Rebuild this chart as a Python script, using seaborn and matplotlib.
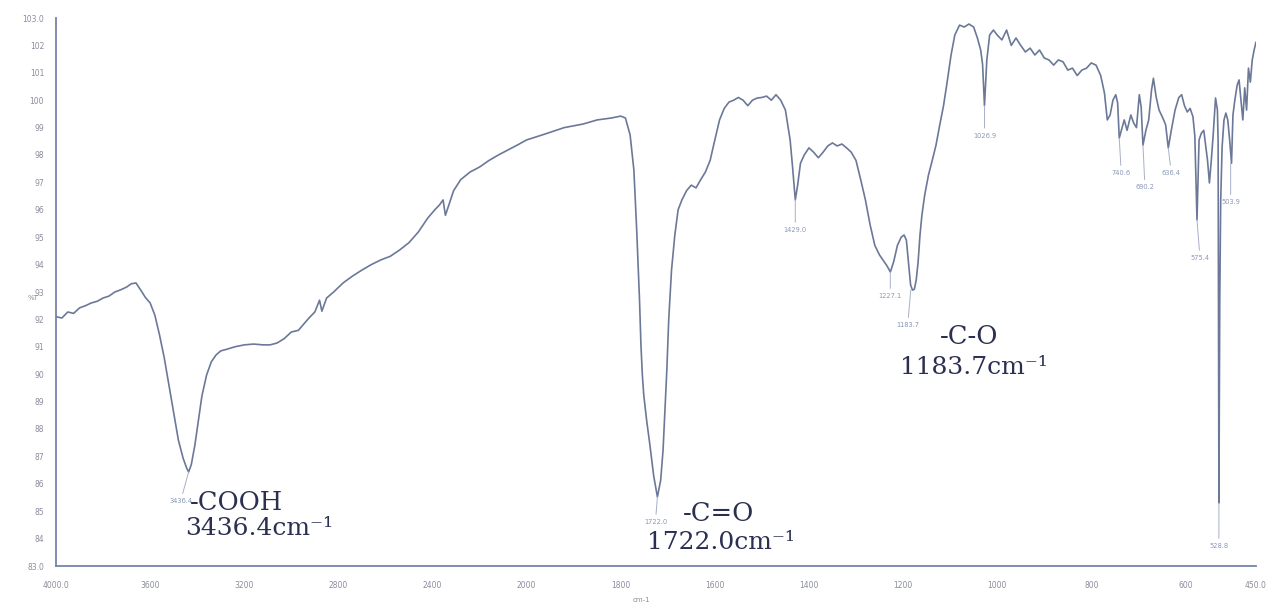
import numpy as np
import pandas as pd
import matplotlib
matplotlib.use("Agg")
import matplotlib.pyplot as plt
import seaborn as sns
from matplotlib.ticker import FixedLocator, FixedFormatter

# ---------------- data ----------------
wavenumber = [
    4000, 3975, 3950, 3925, 3900, 3875, 3850, 3825, 3800, 3775, 3750, 3725, 3700,
    3680, 3660, 3640, 3620, 3600, 3580, 3560, 3540, 3520, 3500, 3480, 3460, 3445,
    3436.4, 3425, 3410, 3395, 3380, 3360, 3340, 3320, 3300, 3270, 3240, 3200, 3160,
    3120, 3090, 3060, 3030, 3000, 2970, 2950, 2925, 2900, 2880, 2870, 2850, 2820,
    2780, 2740, 2700, 2660, 2620, 2580, 2540, 2500, 2460, 2420, 2390, 2370, 2355,
    2345, 2330, 2310, 2280, 2240, 2200, 2160, 2120, 2080, 2040, 2000,
    1960, 1920, 1880, 1850, 1820, 1800, 1790, 1780, 1772, 1766, 1760, 1757, 1754,
    1751, 1745, 1738, 1730, 1722, 1715, 1710, 1706, 1702, 1698, 1692, 1685, 1678,
    1670, 1660, 1650, 1640, 1630, 1620, 1610, 1600, 1590, 1580, 1570, 1560, 1550,
    1540, 1530, 1520, 1510, 1500, 1490, 1480, 1470, 1460, 1450, 1440, 1435, 1429,
    1424, 1418, 1410, 1400, 1390, 1380, 1370, 1360, 1350, 1340, 1330, 1320, 1310,
    1300, 1290, 1280, 1270, 1260, 1250, 1240, 1234, 1227, 1220, 1212, 1204, 1198,
    1193, 1189, 1184, 1180, 1176, 1172, 1168, 1164, 1160, 1154, 1146, 1138, 1130,
    1122, 1114, 1106, 1098, 1090, 1080, 1070, 1060, 1050, 1042, 1035, 1031, 1027,
    1022, 1016, 1008, 1000, 990, 980, 970, 960, 950, 940, 930, 920, 910, 900, 890,
    880, 870, 860, 850, 840, 830, 820, 810, 800, 790, 780, 772, 766, 760, 754, 748,
    744, 740.6, 736, 730, 724, 716, 710, 704, 698, 694, 690.2, 684, 678, 672, 668,
    662, 656, 648, 642, 636.4, 630, 622, 614, 608, 602, 596, 590, 584, 580, 575.4,
    571, 566, 561, 557, 553, 549, 545, 541, 536, 532, 530.5, 528.8, 527, 525, 522,
    518, 514, 510, 506, 502, 499, 495, 490, 486, 482, 478, 474, 470, 466, 462, 458,
    454, 450,
]
transmittance = [
    92.10, 92.05, 92.27, 92.22, 92.42, 92.50, 92.60, 92.66, 92.78, 92.85, 93.00, 93.08, 93.18,
    93.30, 93.33, 93.07, 92.80, 92.60, 92.16, 91.43, 90.60, 89.60, 88.60, 87.60, 86.94, 86.58,
    86.43, 86.70, 87.40, 88.30, 89.20, 89.97, 90.45, 90.70, 90.85, 90.92, 91.00, 91.07, 91.10,
    91.07, 91.07, 91.14, 91.30, 91.54, 91.60, 91.80, 92.05, 92.27, 92.70, 92.30, 92.78, 93.00,
    93.33, 93.58, 93.80, 94.00, 94.17, 94.30, 94.53, 94.80, 95.19, 95.70, 96.00, 96.18, 96.36,
    95.80, 96.18, 96.70, 97.10, 97.38, 97.56, 97.80, 98.00, 98.18, 98.36, 98.55,
    98.77, 99.00, 99.13, 99.28, 99.35, 99.42, 99.35, 98.73, 97.45, 95.26, 92.70, 91.07, 89.97,
    89.24, 88.33, 87.42, 86.30, 85.52, 86.14, 87.23, 88.70, 90.15, 91.98, 93.80, 95.08, 96.00,
    96.36, 96.70, 96.90, 96.80, 97.10, 97.38, 97.80, 98.55, 99.28, 99.70, 99.93, 100.00, 100.10,
    100.00, 99.80, 100.00, 100.08, 100.10, 100.15, 100.00, 100.20, 100.00, 99.64, 98.55, 97.60, 96.36,
    96.90, 97.70, 98.00, 98.26, 98.10, 97.90, 98.10, 98.33, 98.44, 98.33, 98.40, 98.26, 98.10,
    97.80, 97.10, 96.36, 95.45, 94.70, 94.35, 94.10, 93.95, 93.73, 94.10, 94.70, 95.00, 95.08,
    94.90, 94.17, 93.26, 93.07, 93.10, 93.44, 94.10, 95.08, 95.80, 96.54, 97.27, 97.80, 98.36,
    99.10, 99.80, 100.70, 101.65, 102.38, 102.74, 102.67, 102.78, 102.67, 102.27, 101.83, 101.30, 99.80,
    101.47, 102.38, 102.56, 102.38, 102.20, 102.56, 102.00, 102.27, 102.00, 101.76, 101.90, 101.65, 101.83, 101.54, 101.47,
    101.28, 101.47, 101.40, 101.10, 101.17, 100.90, 101.10, 101.17, 101.36, 101.28, 100.90, 100.26, 99.28, 99.46, 100.00, 100.20,
    99.90, 98.62, 98.90, 99.28, 98.90, 99.46, 99.17, 99.00, 100.20, 99.75, 98.36, 98.90, 99.28, 100.37, 100.80,
    100.10, 99.64, 99.35, 99.10, 98.26, 98.90, 99.64, 100.10, 100.20, 99.80, 99.57, 99.70, 99.40, 98.70, 95.63,
    98.55, 98.80, 98.90, 98.36, 97.80, 96.98, 97.80, 98.73, 100.08, 99.64, 98.50, 85.30, 92.70, 96.36, 98.30,
    99.28, 99.53, 99.28, 98.55, 97.70, 99.46, 100.00, 100.55, 100.74, 100.00, 99.28, 100.45, 99.64, 101.17, 100.66, 101.47,
    101.83, 102.12,
]

x_ticks = [4000, 3600, 3200, 2800, 2400, 2000, 1800, 1600, 1400, 1200, 1000, 800, 600, 450]
x_tick_labels = ["4000.0", "3600", "3200", "2800", "2400", "2000", "1800", "1600",
                 "1400", "1200", "1000", "800", "600", "450.0"]
y_ticks = list(range(83, 104))
y_tick_labels = ["83.0"] + [str(v) for v in range(84, 103)] + ["103.0"]

peak_wn = [3436.4, 1722.0, 1429.0, 1227.1, 1183.7, 1026.9, 740.6, 690.2, 636.4, 575.4, 528.8, 503.9]
peak_T = [86.43, 85.52, 96.36, 93.73, 93.07, 99.80, 98.62, 98.36, 98.26, 95.63, 85.30, 97.70]
peak_labels = ["3436.4", "1722.0", "1429.0", "1227.1", "1183.7", "1026.9",
               "740.6", "690.2", "636.4", "575.4", "528.8", "503.9"]

group_names = ["-COOH", "-C=O", "-C-O"]
group_positions = ["3436.4", "1722.0", "1183.7"]

x_label = "cm-1"
y_label = "%T"

# ---------------- styling ----------------
sns.set_theme(style="white")
plt.rcParams["font.family"] = ["DejaVu Sans"]

LINE_C = "#6b7898"
SPINE_C = "#7483a8"
TICK_TXT = "#8a8d9c"
PEAK_TXT = "#8a97b8"
ANNOT_C = "#2b3052"

fig = plt.figure(figsize=(12.82, 6.03), dpi=100)
fig.patch.set_facecolor("white")
ax = fig.add_axes([56 / 1282, 37 / 603, 1200 / 1282, 548 / 603])
ax.set_facecolor("white")

df = pd.DataFrame({"wavenumber": wavenumber, "T": transmittance})
sns.lineplot(data=df, x="wavenumber", y="T", ax=ax, color=LINE_C, linewidth=1.2,
             estimator=None, sort=True)


def fwd(x):
    x = np.asarray(x, dtype=float)
    return np.where(x > 2000, 2000 + (x - 2000) / 2.0, x)


def inv(u):
    u = np.asarray(u, dtype=float)
    return np.where(u > 2000, 2000 + (u - 2000) * 2.0, u)


ax.set_xscale("function", functions=(fwd, inv))
ax.set_xlim(4000, 450)
ax.set_ylim(83, 103)

ax.xaxis.set_major_locator(FixedLocator(x_ticks))
ax.xaxis.set_major_formatter(FixedFormatter(x_tick_labels))
minor_x = list(np.arange(4000, 2000, -80)) + list(np.arange(2000, 449, -40))
ax.xaxis.set_minor_locator(FixedLocator(minor_x))
ax.yaxis.set_major_locator(FixedLocator(y_ticks))
ax.yaxis.set_major_formatter(FixedFormatter(y_tick_labels))
ax.yaxis.set_minor_locator(FixedLocator(list(np.arange(83, 103.01, 0.25))))

for s in ["top", "right"]:
    ax.spines[s].set_visible(False)
for s in ["left", "bottom"]:
    ax.spines[s].set_color(SPINE_C)
    ax.spines[s].set_linewidth(1.3)

ax.tick_params(axis="both", which="major", direction="inout", length=5, width=0.9,
               color=SPINE_C, labelsize=5.5, labelcolor=TICK_TXT, pad=6)
ax.tick_params(axis="both", which="minor", direction="inout", length=2.2, width=0.6,
               color=SPINE_C)
ax.tick_params(axis="x", which="major", pad=8)
ax.grid(False)

ax.set_xlabel(x_label, fontsize=5, color=TICK_TXT)
ax.xaxis.set_label_coords(0.488, -0.057)
ax.set_ylabel(y_label, fontsize=5, color=TICK_TXT, rotation=0, va="center")
ax.yaxis.set_label_coords(-0.019, 0.489)

# ---------------- peak labels ----------------
peak_offsets = [(-8, -29), (-2, -25), (0, -30), (0, -24), (-3, -35), (0, -30),
                (2, -35), (2, -42), (3, -25), (3, -38), (0, -43), (0, -39)]
for wn, t, lab, (dx, dy) in zip(peak_wn, peak_T, peak_labels, peak_offsets):
    ax.annotate(lab, xy=(wn, t), xytext=(dx, dy), textcoords="offset pixels",
                fontsize=4.8, color=PEAK_TXT, ha="center", va="center",
                arrowprops=dict(arrowstyle="-", color="#a7b0c8", lw=0.7,
                                shrinkA=1, shrinkB=0))

# ---------------- functional-group annotations ----------------
group_xy = [((0.1117, 0.115), (0.1075, 0.0693)),
            ((0.5225, 0.0967), (0.4925, 0.042)),
            ((0.7367, 0.418), (0.7033, 0.363))]
for name, pos, (p1, p2) in zip(group_names, group_positions, group_xy):
    ax.text(p1[0], p1[1], name, transform=ax.transAxes, fontsize=18.5,
            family="DejaVu Serif", color=ANNOT_C, ha="left", va="center")
    ax.text(p2[0], p2[1], pos + "cm\u207b\u00b9", transform=ax.transAxes,
            fontsize=18, family="DejaVu Serif", color=ANNOT_C, ha="left", va="center")

fig.savefig("out.png", dpi=100, facecolor="white")
